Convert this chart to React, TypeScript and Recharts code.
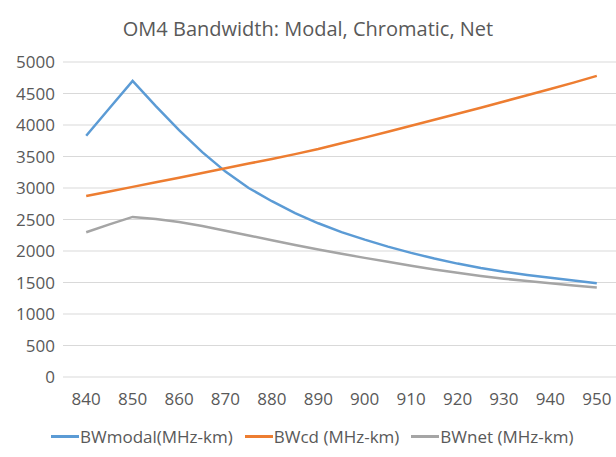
import React from 'react';
import { LineChart, Line, XAxis, YAxis, CartesianGrid, Legend } from 'recharts';

const wavelengths = [840, 845, 850, 855, 860, 865, 870, 875, 880, 885, 890, 895, 900, 905, 910, 915, 920, 925, 930, 935, 940, 945, 950];
const bwModal = [3830, 4265, 4700, 4300, 3920, 3570, 3260, 3000, 2790, 2600, 2440, 2300, 2180, 2070, 1970, 1880, 1800, 1730, 1670, 1620, 1575, 1530, 1487];
const bwCd = [2873, 2945, 3018, 3090, 3163, 3237, 3312, 3388, 3460, 3538, 3618, 3709, 3800, 3893, 3987, 4082, 4178, 4275, 4373, 4472, 4572, 4673, 4780];
const bwNet = [2298, 2423, 2541, 2509, 2460, 2398, 2323, 2246, 2172, 2095, 2023, 1955, 1891, 1828, 1766, 1708, 1653, 1604, 1560, 1523, 1489, 1454, 1420];

const xTicks = [840, 850, 860, 870, 880, 890, 900, 910, 920, 930, 940, 950];
const yTicks = [0, 500, 1000, 1500, 2000, 2500, 3000, 3500, 4000, 4500, 5000];

const seriesNames = ['BWmodal(MHz-km)', 'BWcd (MHz-km)', 'BWnet (MHz-km)'];
const seriesColors = ['#5B9BD5', '#ED7D31', '#A5A5A5'];

const data = wavelengths.map((w, i) => ({
  wl: w,
  modal: bwModal[i],
  cd: bwCd[i],
  net: bwNet[i],
}));

const FONT = '"Open Sans", sans-serif';
const TEXT = '#595959';

const LegendContent = () => (
  <div style={{ display: 'flex', justifyContent: 'flex-start', paddingLeft: 51, height: 26, alignItems: 'center', fontFamily: FONT, fontSize: 17, color: TEXT }}>
    {seriesNames.map((n, i) => (
      <div key={n} style={{ display: 'flex', alignItems: 'center', marginRight: 12 }}>
        <span style={{ display: 'inline-block', width: 28, height: 3, background: seriesColors[i], marginRight: 1 }} />
        <span>{n}</span>
      </div>
    ))}
  </div>
);

export default function App() {
  return (
    <div style={{ position: 'absolute', left: 0, top: 0, width: 616, height: 457, overflow: 'hidden', background: '#fff' }}>
      <div style={{ position: 'absolute', top: 15, left: 0, width: 616, textAlign: 'center', fontFamily: FONT, fontSize: 20, color: TEXT, lineHeight: '28px' }}>
        OM4 Bandwidth: Modal, Chromatic, Net
      </div>
      <LineChart width={630} height={457} data={data} margin={{ top: 62, right: 10, bottom: 0, left: 0 }}>
        <CartesianGrid horizontal vertical={false} stroke="#D9D9D9" strokeWidth={1} />
        <XAxis
          dataKey="wl"
          type="number"
          domain={[835, 955]}
          ticks={xTicks}
          axisLine={false}
          tickLine={false}
          tickSize={0}
          tickMargin={16}
          height={54}
          tick={{ fontFamily: FONT, fontSize: 17, fill: TEXT }}
          interval={0}
        />
        <YAxis
          domain={[0, 5000]}
          ticks={yTicks}
          axisLine={false}
          tickLine={false}
          tickSize={0}
          tickMargin={8}
          width={63}
          tick={{ fontFamily: FONT, fontSize: 17, fill: TEXT }}
          interval={0}
        />
        <Legend verticalAlign="bottom" content={<LegendContent />} wrapperStyle={{ top: 423, left: 0, width: 616 }} />
        <Line type="linear" dataKey="modal" name={seriesNames[0]} stroke={seriesColors[0]} strokeWidth={2.5} dot={false} isAnimationActive={false} />
        <Line type="linear" dataKey="cd" name={seriesNames[1]} stroke={seriesColors[1]} strokeWidth={2.5} dot={false} isAnimationActive={false} />
        <Line type="linear" dataKey="net" name={seriesNames[2]} stroke={seriesColors[2]} strokeWidth={2.5} dot={false} isAnimationActive={false} />
      </LineChart>
    </div>
  );
}
